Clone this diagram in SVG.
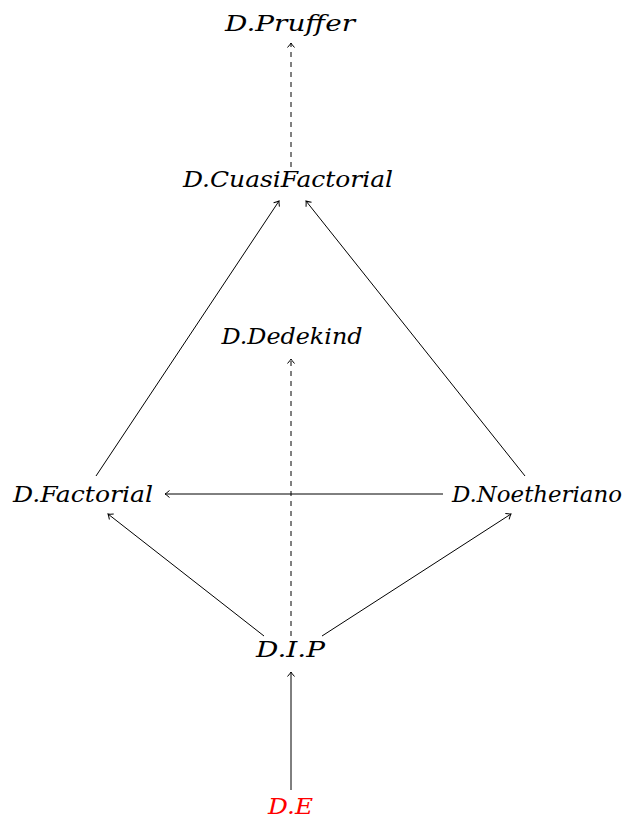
<svg xmlns="http://www.w3.org/2000/svg" width="633" height="818" viewBox="0 0 633 818">
<defs>
<style>
.lbl{font-family:"DejaVu Serif","Liberation Serif",serif;font-style:italic;font-size:22px;text-anchor:middle;fill:#000}
.e{stroke:#000;stroke-width:1;fill:none;marker-end:url(#to)}
.d{stroke-dasharray:5 5}
</style>
<marker id="to" markerUnits="userSpaceOnUse" viewBox="-6 -5 8 10" markerWidth="8" markerHeight="10" refX="0" refY="0" orient="auto">
<path d="M -4.5 -3.5 Q -1.2 -0.6 0 0 Q -1.2 0.6 -4.5 3.5" stroke="#000" stroke-width="1" fill="none"/>
</marker>
</defs>
<rect width="633" height="818" fill="#fff"/>
<g id="edges">
<line class="e" x1="291" y1="790" x2="291" y2="672"/>
<line class="e d" x1="291" y1="636" x2="291" y2="359"/>
<line class="e" x1="264" y1="636" x2="108" y2="514"/>
<line class="e" x1="322" y1="636" x2="511" y2="514"/>
<line class="e" x1="443" y1="494" x2="165" y2="494"/>
<line class="e" x1="96" y1="476" x2="279" y2="201"/>
<line class="e" x1="525" y1="476" x2="306" y2="201"/>
<line class="e d" x1="291" y1="167" x2="291" y2="43"/>
</g>
<g id="pruffer"><text class="lbl" x="290" y="31" textLength="130" lengthAdjust="spacingAndGlyphs">D.Pruffer</text></g>
<g id="cuasi"><text class="lbl" x="288" y="187" textLength="210" lengthAdjust="spacingAndGlyphs">D.CuasiFactorial</text></g>
<g id="dedekind"><text class="lbl" x="292" y="344" textLength="141" lengthAdjust="spacingAndGlyphs">D.Dedekind</text></g>
<g id="factorial"><text class="lbl" x="83" y="502" textLength="140" lengthAdjust="spacingAndGlyphs">D.Factorial</text></g>
<g id="noetheriano"><text class="lbl" x="537" y="502" textLength="170" lengthAdjust="spacingAndGlyphs">D.Noetheriano</text></g>
<g id="dip"><text class="lbl" x="290.5" y="657" textLength="69" lengthAdjust="spacingAndGlyphs">D.I.P</text></g>
<g id="de"><text class="lbl" x="290.5" y="814" textLength="45" lengthAdjust="spacingAndGlyphs" style="fill:#ff0000">D.E</text></g>
</svg>
